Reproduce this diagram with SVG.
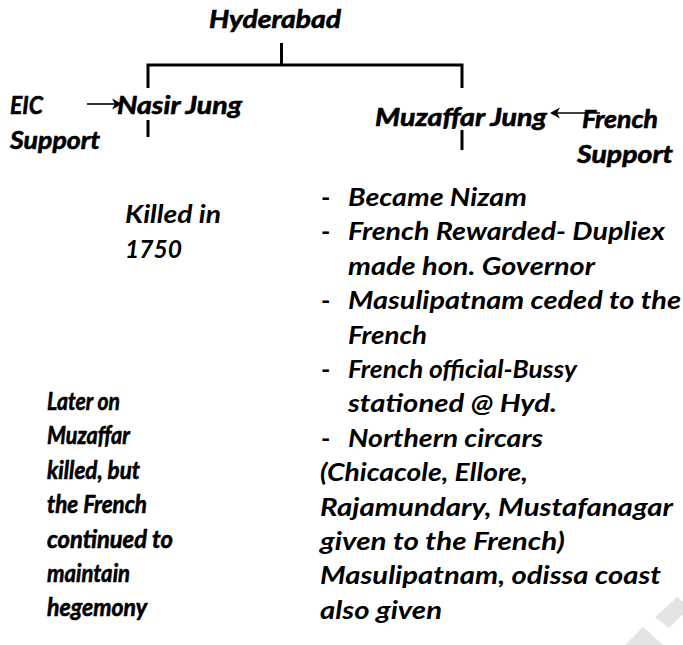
<svg xmlns="http://www.w3.org/2000/svg" width="683" height="645" viewBox="0 0 683 645">
<defs>
<style>
text{font-family:Lato,"Open Sans","Liberation Sans",sans-serif;font-weight:bold;font-style:italic;font-size:25px;fill:#000}
text.d{font-style:normal;font-weight:bold}
text.c{stroke:#000;stroke-width:0.6}
.ln{stroke:#000;stroke-width:3;fill:none}
.ar{stroke:#000;stroke-width:1.6;fill:none}
.hd{fill:#000}
.wm{fill:#e4e4e4}
</style>
</defs>
<rect width="683" height="645" fill="#fff"/>
<g id="watermark">
<polygon class="wm" points="677,597 655,617 669,628 683,614 683,602"/>
<polygon class="wm" points="643,627 625,645 663,645"/>
</g>
<g id="connectors">
<path class="ln" d="M281.5,43 V65 M148,88 V65 H462 V88 M148,120 V137 M462,130 V150"/>
<path class="ar" d="M87,104 H117"/>
<path class="hd" d="M122,104 L112,98.5 L115,104 L112,109.5 Z"/>
<path class="ar" d="M600,113 H555"/>
<path class="hd" d="M550,113 L560,107.5 L557,113 L560,118.5 Z"/>
</g>
<g id="hyderabad"><text class="c" x="209" y="28" textLength="132" lengthAdjust="spacingAndGlyphs">Hyderabad</text></g>
<g id="eic-support">
<text class="c" x="10" y="114" textLength="33" lengthAdjust="spacingAndGlyphs">EIC</text>
<text class="c" x="10" y="149" textLength="90" lengthAdjust="spacingAndGlyphs">Support</text>
</g>
<g id="nasir-jung"><text class="c" x="117" y="114" textLength="125" lengthAdjust="spacingAndGlyphs">Nasir Jung</text></g>
<g id="muzaffar-jung"><text class="c" x="375" y="126" textLength="172" lengthAdjust="spacingAndGlyphs">Muzaffar Jung</text></g>
<g id="french-support">
<text class="c" x="582" y="128" textLength="76" lengthAdjust="spacingAndGlyphs">French</text>
<text class="c" x="577" y="163" textLength="96" lengthAdjust="spacingAndGlyphs">Support</text>
</g>
<g id="nasir-fate">
<text x="125" y="223" textLength="96" lengthAdjust="spacingAndGlyphs">Killed in</text>
<text x="125" y="258" textLength="57" lengthAdjust="spacingAndGlyphs">1750</text>
</g>
<g id="muzaffar-outcomes">
<text class="d" x="321" y="206">-</text>
<text x="348" y="206" textLength="179" lengthAdjust="spacingAndGlyphs">Became Nizam</text>
<text class="d" x="321" y="240.4">-</text>
<text x="348" y="240.4" textLength="317" lengthAdjust="spacingAndGlyphs">French Rewarded- Dupliex</text>
<text x="348" y="274.8" textLength="247" lengthAdjust="spacingAndGlyphs">made hon. Governor</text>
<text class="d" x="321" y="309.2">-</text>
<text x="348" y="309.2" textLength="333" lengthAdjust="spacingAndGlyphs">Masulipatnam ceded to the</text>
<text x="348" y="343.6" textLength="79" lengthAdjust="spacingAndGlyphs">French</text>
<text class="d" x="321" y="378">-</text>
<text x="348" y="378" textLength="229" lengthAdjust="spacingAndGlyphs">French official-Bussy</text>
<text x="348" y="412.4" textLength="209" lengthAdjust="spacingAndGlyphs">stationed @ Hyd.</text>
<text class="d" x="321" y="446.8">-</text>
<text x="348" y="446.8" textLength="195" lengthAdjust="spacingAndGlyphs">Northern circars</text>
<text x="320" y="481.2" textLength="208" lengthAdjust="spacingAndGlyphs">(Chicacole, Ellore,</text>
<text x="320" y="515.6" textLength="353" lengthAdjust="spacingAndGlyphs">Rajamundary, Mustafanagar</text>
<text x="320" y="550" textLength="245" lengthAdjust="spacingAndGlyphs">given to the French)</text>
<text x="320" y="584.4" textLength="341" lengthAdjust="spacingAndGlyphs">Masulipatnam, odissa coast</text>
<text x="320" y="618.8" textLength="122" lengthAdjust="spacingAndGlyphs">also given</text>
</g>
<g id="later-note">
<text class="c" x="47" y="410" textLength="73" lengthAdjust="spacingAndGlyphs">Later on</text>
<text class="c" x="47" y="444.4" textLength="83" lengthAdjust="spacingAndGlyphs">Muzaffar</text>
<text class="c" x="47" y="478.8" textLength="93" lengthAdjust="spacingAndGlyphs">killed, but</text>
<text class="c" x="47" y="513.2" textLength="100" lengthAdjust="spacingAndGlyphs">the French</text>
<text class="c" x="47" y="547.6" textLength="126" lengthAdjust="spacingAndGlyphs">continued to</text>
<text class="c" x="47" y="582" textLength="83" lengthAdjust="spacingAndGlyphs">maintain</text>
<text class="c" x="47" y="616.4" textLength="100" lengthAdjust="spacingAndGlyphs">hegemony</text>
</g>
</svg>
